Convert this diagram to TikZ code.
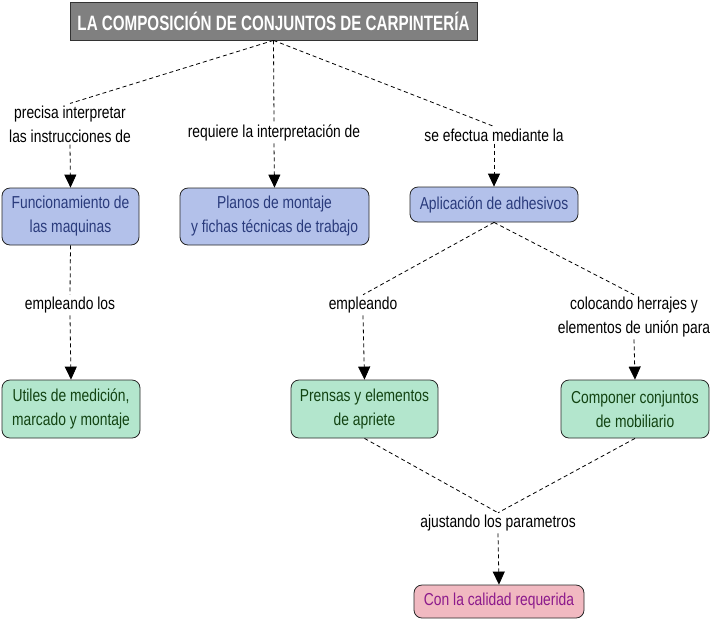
\documentclass[tikz,border=0pt]{standalone}
\usepackage{fontspec}
\setmainfont{Liberation Sans}[FakeStretch=0.80]
\newfontfamily\titlefont{Liberation Sans}[FakeStretch=0.73]
\usetikzlibrary{arrows.meta}
\definecolor{bluefill}{HTML}{B3C1EA}
\definecolor{bluetext}{HTML}{2A3B7C}
\definecolor{greenfill}{HTML}{B3E6CD}
\definecolor{greentext}{HTML}{124312}
\definecolor{pinkfill}{HTML}{F1B9C1}
\definecolor{pinktext}{HTML}{8C1A8C}
\definecolor{titlefill}{HTML}{808080}
\begin{document}
\begin{tikzpicture}[x=1pt,y=-1pt,
  every node/.style={font=\fontsize{17.3}{24}\selectfont},
  box/.style={draw=black!85,line width=0.8pt,rounded corners=8pt,align=center,inner sep=2pt},
  bluebox/.style={box,fill=bluefill,text=bluetext},
  greenbox/.style={box,fill=greenfill,text=greentext},
  pinkbox/.style={box,fill=pinkfill,text=pinktext},
  lab/.style={align=center,inner sep=2pt,text=black},
  link/.style={dashed,dash pattern=on 4pt off 3pt,line width=0.8pt,black},
  arr/.style={link,-{Triangle[length=13pt,width=12pt]}}]
\useasboundingbox (0,0) rectangle (714,622);
\node[draw=black!80,line width=0.8pt,fill=titlefill,text=white,minimum width=407pt,minimum height=38pt,inner sep=0pt,font=\titlefont\bfseries\fontsize{20.8}{22}\selectfont] (title) at (273.5,21) {LA COMPOSICIÓN DE CONJUNTOS DE CARPINTERÍA};
\node[lab] (l1) at (70,124) {precisa interpretar\\las instrucciones de};
\node[lab] (l2) at (274,133) {requiere la interpretación de};
\node[lab] (l3) at (494,135) {se efectua mediante la};
\node[bluebox,minimum width=137pt,minimum height=57pt] (n1) at (70.5,216.5) {Funcionamiento de\\las maquinas};
\node[bluebox,minimum width=189pt,minimum height=57pt] (n2) at (274.5,216.5) {Planos de montaje\\y fichas técnicas de trabajo};
\node[bluebox,minimum width=168pt,minimum height=35pt] (n3) at (494,204.5) {Aplicación de adhesivos};
\node[lab] (l4) at (70,305) {empleando los};
\node[lab] (l5) at (363,305) {empleando};
\node[lab] (l6) at (634,317) {colocando herrajes y\\elementos de unión para};
\node[greenbox,minimum width=138pt,minimum height=58pt] (n4) at (71,409) {Utiles de medición,\\marcado y montaje};
\node[greenbox,minimum width=147pt,minimum height=58pt] (n5) at (364.5,409) {Prensas y elementos\\de apriete};
\node[greenbox,minimum width=148pt,minimum height=58pt] (n6) at (635,409) {Componer conjuntos\\de mobiliario};
\node[lab] (l7) at (498,523) {ajustando los parametros};
\node[pinkbox,minimum width=170pt,minimum height=33pt] (n7) at (499,601.5) {Con la calidad requerida};
\draw[link] (title.south) -- (l1.north);
\draw[link] (title.south) -- (l2.north);
\draw[link] (title.south) -- (l3.north);
\draw[arr] (l1.south) -- (n1.north);
\draw[arr] (l2.south) -- (n2.north);
\draw[arr] (l3.south) -- (n3.north);
\draw[link] (n1.south) -- (l4.north);
\draw[arr] (l4.south) -- (n4.north);
\draw[link] (n3.south) -- (l5.north);
\draw[link] (n3.south) -- (l6.north);
\draw[arr] (l5.south) -- (n5.north);
\draw[arr] (l6.south) -- (n6.north);
\draw[link] (n5.south) -- (l7.north);
\draw[link] (n6.south) -- (l7.north);
\draw[arr] (l7.south) -- (n7.north);
\end{tikzpicture}
\end{document}
